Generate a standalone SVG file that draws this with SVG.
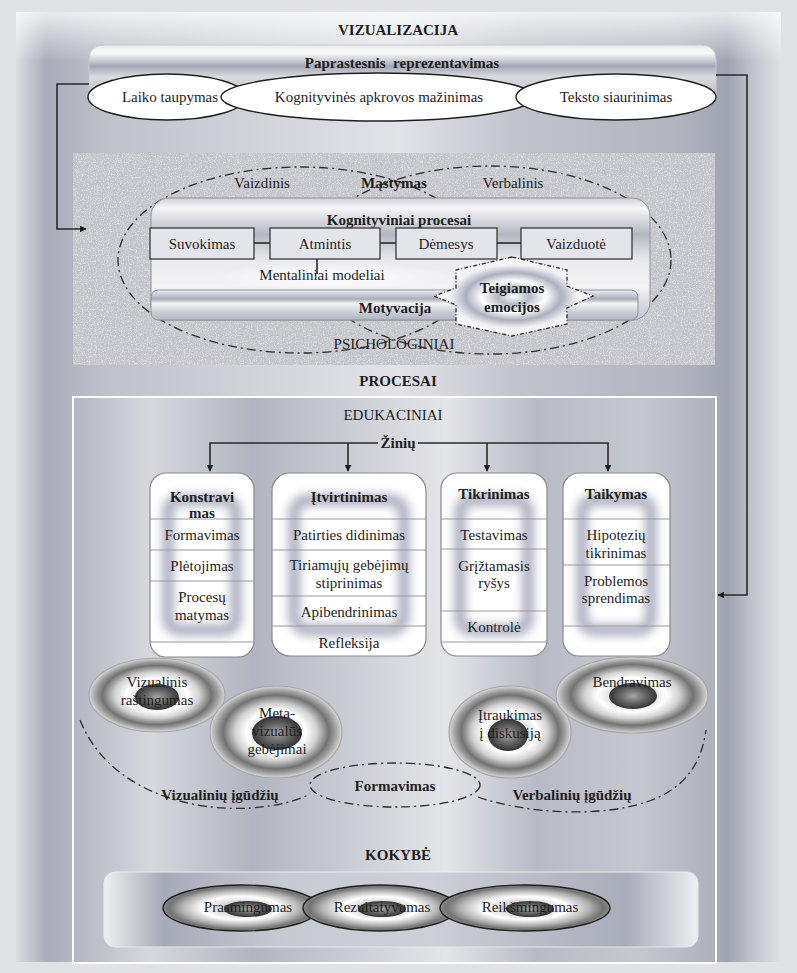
<svg xmlns="http://www.w3.org/2000/svg" width="797" height="973" viewBox="0 0 797 973">
<defs>
<style>
.t{font-family:"Liberation Serif","Times New Roman",serif;font-size:15px;fill:#1e1e1e;text-anchor:middle;dominant-baseline:central}
.b{font-weight:bold}
.ln{stroke:#2a2a2a;stroke-width:1.6;fill:none}
.dd{stroke:#2a2a2a;stroke-width:1.3;fill:none;stroke-dasharray:9 4 2 4}
.cbox{fill:#e4e5ea;stroke:#3a3a3a;stroke-width:1.3}
.ebox{fill:#ffffff;stroke:#8a8a8a;stroke-width:1.2}
.div{stroke:#9a9a9a;stroke-width:1}
.glow{fill:none;stroke:#8e92a8;stroke-width:12;opacity:0.7;filter:url(#blur)}
.oval{fill:#ffffff;stroke:#1e1e1e;stroke-width:1.4}
.ring{fill:url(#gRing);stroke:#a8a8a8;stroke-width:1.2}
.core{fill:url(#gCore)}
.ring2{fill:url(#gRing2);stroke:#1e1e1e;stroke-width:1.4}
</style>
<linearGradient id="gBg" x1="0" y1="0" x2="1" y2="0">
<stop offset="0" stop-color="#dcdde1"/><stop offset="0.04" stop-color="#a9acb9"/><stop offset="0.12" stop-color="#c0c2cb"/>
<stop offset="0.3" stop-color="#d0d2d8"/><stop offset="0.5" stop-color="#e2e3e7"/><stop offset="0.66" stop-color="#c0c3cc"/>
<stop offset="0.86" stop-color="#b3b6c1"/><stop offset="0.93" stop-color="#a0a3b1"/><stop offset="0.97" stop-color="#c8cad2"/><stop offset="1" stop-color="#e0e1e5"/>
</linearGradient>
<linearGradient id="gTop" x1="0" y1="0" x2="0" y2="1">
<stop offset="0" stop-color="#ffffff" stop-opacity="0.75"/><stop offset="1" stop-color="#ffffff" stop-opacity="0"/>
</linearGradient>
<linearGradient id="gIn" x1="0" y1="0" x2="1" y2="0">
<stop offset="0" stop-color="#b3b6c2"/><stop offset="0.12" stop-color="#d6d8dd"/><stop offset="0.28" stop-color="#b2b5c1"/>
<stop offset="0.45" stop-color="#ced0d7"/><stop offset="0.58" stop-color="#e4e5e8"/><stop offset="0.72" stop-color="#b8bbc6"/>
<stop offset="0.88" stop-color="#c6c8d0"/><stop offset="1" stop-color="#adb0bc"/>
</linearGradient>
<linearGradient id="gBar" x1="0" y1="0" x2="0" y2="1">
<stop offset="0" stop-color="#e8e9ec"/><stop offset="0.15" stop-color="#fbfbfc"/><stop offset="0.4" stop-color="#a4a8b5"/>
<stop offset="0.6" stop-color="#dadbe0"/><stop offset="1" stop-color="#b9bcc6"/>
</linearGradient>
<linearGradient id="gCog" x1="0" y1="0" x2="0" y2="1">
<stop offset="0" stop-color="#cfd1d8"/><stop offset="0.08" stop-color="#f6f6f8"/><stop offset="0.3" stop-color="#b4b7c3"/>
<stop offset="0.5" stop-color="#e8e9ec"/><stop offset="0.72" stop-color="#f4f4f6"/><stop offset="1" stop-color="#c2c4cd"/>
</linearGradient>
<linearGradient id="gMot" x1="0" y1="0" x2="0" y2="1">
<stop offset="0" stop-color="#eeeff2"/><stop offset="0.3" stop-color="#a9adba"/><stop offset="0.45" stop-color="#f4f4f6"/>
<stop offset="0.75" stop-color="#c9ccd4"/><stop offset="1" stop-color="#b2b5c1"/>
</linearGradient>
<linearGradient id="gQ" x1="0" y1="0" x2="1" y2="0">
<stop offset="0" stop-color="#eeeff1"/><stop offset="0.1" stop-color="#a6a9b7"/><stop offset="0.3" stop-color="#c8cad2"/>
<stop offset="0.55" stop-color="#cdd0d7"/><stop offset="0.88" stop-color="#a9acba"/><stop offset="1" stop-color="#eeeff1"/>
</linearGradient>
<radialGradient id="gMent"><stop offset="0" stop-color="#ffffff" stop-opacity="0.9"/><stop offset="1" stop-color="#ffffff" stop-opacity="0"/></radialGradient>
<radialGradient id="gStar">
<stop offset="0" stop-color="#ffffff"/><stop offset="0.2" stop-color="#b6b9c6"/><stop offset="0.4" stop-color="#ffffff"/>
<stop offset="0.6" stop-color="#adb0be"/><stop offset="0.8" stop-color="#f3f3f6"/><stop offset="1" stop-color="#ffffff"/>
</radialGradient>
<radialGradient id="gRing">
<stop offset="0" stop-color="#bdbdbd"/><stop offset="0.25" stop-color="#dadada"/><stop offset="0.45" stop-color="#ffffff"/>
<stop offset="0.62" stop-color="#d2d2d2"/><stop offset="0.8" stop-color="#727272"/><stop offset="0.9" stop-color="#a0a0a0"/><stop offset="1" stop-color="#d8d8d8"/>
</radialGradient>
<radialGradient id="gRing2">
<stop offset="0" stop-color="#9a9a9a"/><stop offset="0.3" stop-color="#dcdcdc"/><stop offset="0.5" stop-color="#ffffff"/>
<stop offset="0.75" stop-color="#b4b4b4"/><stop offset="0.92" stop-color="#737373"/><stop offset="1" stop-color="#8a8a8a"/>
</radialGradient>
<radialGradient id="gCore">
<stop offset="0" stop-color="#a6a6a6"/><stop offset="0.6" stop-color="#5e5e5e"/><stop offset="1" stop-color="#353535"/>
</radialGradient>
<filter id="blur" x="-20%" y="-20%" width="140%" height="140%"><feGaussianBlur stdDeviation="5"/></filter>
<filter id="noiseW" x="0" y="0" width="1" height="1">
<feTurbulence type="fractalNoise" baseFrequency="0.85" numOctaves="2" seed="4"/>
<feColorMatrix type="matrix" values="0 0 0 0 1  0 0 0 0 1  0 0 0 0 1  1.6 0 0 0 -0.75"/>
</filter>
<filter id="noiseD" x="0" y="0" width="1" height="1">
<feTurbulence type="fractalNoise" baseFrequency="0.9" numOctaves="2" seed="11"/>
<feColorMatrix type="matrix" values="0 0 0 0 0.45  0 0 0 0 0.45  0 0 0 0 0.48  1.6 0 0 0 -0.8"/>
</filter>
<marker id="arr" viewBox="0 0 10 10" refX="9" refY="5" markerWidth="7" markerHeight="7" orient="auto" markerUnits="userSpaceOnUse">
<path d="M0,0 L10,5 L0,10 z" fill="#1e1e1e"/>
</marker>
</defs>

<!-- background -->
<g id="background">
<rect x="0" y="0" width="797" height="973" fill="#e1e2e5"/>
<rect x="16" y="12" width="765" height="950" fill="url(#gBg)"/>
<rect x="16" y="12" width="765" height="50" fill="url(#gTop)"/>
<rect x="73" y="397" width="643" height="566" fill="url(#gIn)"/>
<rect x="73" y="397" width="643" height="566" fill="none" stroke="#ffffff" stroke-width="2"/>
</g>

<text class="t b" x="398" y="30">VIZUALIZACIJA</text>

<g id="top-bar">
<path d="M89,98 V60 Q89,45 104,45 H701 Q716,45 716,60 V98 Z" fill="url(#gBar)" stroke="#c8c9ce" stroke-width="1"/>
<text class="t b" x="402" y="63" style="white-space:pre">Paprastesnis  reprezentavimas</text>
</g>
<g id="laiko"><ellipse class="oval" cx="167" cy="97" rx="79" ry="23"/></g>
<g id="kognityvines"><ellipse class="oval" cx="378" cy="97" rx="157" ry="24"/></g>
<g id="teksto"><ellipse class="oval" cx="616" cy="97" rx="100" ry="23"/></g>
<text class="t" x="170" y="97">Laiko taupymas</text>
<text class="t" x="379" y="97">Kognityvinės apkrovos mažinimas</text>
<text class="t" x="616" y="97">Teksto siaurinimas</text>

<g id="psichologiniai">
<rect x="73" y="153" width="642" height="212" fill="#c6c7cc"/>
<rect x="73" y="153" width="642" height="212" fill="#fff" filter="url(#noiseW)"/>
<rect x="73" y="153" width="642" height="212" fill="#fff" filter="url(#noiseD)"/>
<text class="t" x="394" y="344">PSICHOLOGINIAI</text>
</g>

<g id="mastymas">
<ellipse class="dd" cx="300" cy="260" rx="182" ry="93"/>
<ellipse class="dd" cx="490" cy="260" rx="181" ry="94"/>
<text class="t" x="262" y="183">Vaizdinis</text>
<text class="t b" x="394" y="183">Mąstymas</text>
<text class="t" x="513" y="183">Verbalinis</text>
</g>

<g id="kognityviniai">
<rect x="151" y="198" width="499" height="122" rx="18" fill="url(#gCog)" stroke="#8f929c" stroke-width="1"/>
<ellipse cx="330" cy="276" rx="120" ry="14" fill="url(#gMent)"/>
<text class="t b" x="399" y="220">Kognityviniai procesai</text>
</g>
<g id="suvokimas"><rect class="cbox" x="150" y="228" width="104" height="31"/><text class="t" x="202" y="244">Suvokimas</text></g>
<g id="atmintis"><rect class="cbox" x="270" y="228" width="110" height="31"/><text class="t" x="325" y="244">Atmintis</text></g>
<g id="demesys"><rect class="cbox" x="396" y="228" width="101" height="31"/><text class="t" x="446" y="244">Dėmesys</text></g>
<g id="vaizduote"><rect class="cbox" x="521" y="228" width="111" height="31"/><text class="t" x="576" y="244">Vaizduotė</text></g>
<g id="mentaliniai"><text class="t" x="322" y="275">Mentaliniai modeliai</text></g>

<g id="motyvacija">
<rect x="151" y="290" width="487" height="30" rx="7" fill="url(#gMot)" stroke="#8f929c" stroke-width="1"/>
<text class="t b" x="395" y="308">Motyvacija</text>
</g>

<g id="teigiamos">
<polygon points="512,257 456,270 456,288 434,296 456,305 456,324 512,336 567,324 567,308 593,296 567,286 567,270" fill="url(#gStar)" stroke="#2a2a2a" stroke-width="1.3" stroke-dasharray="4 2 1 2"/>
<text class="t b" x="512" y="288">Teigiamos</text>
<text class="t b" x="512" y="307">emocijos</text>
</g>

<text class="t b" x="398" y="381">PROCESAI</text>
<text class="t" x="393" y="415">EDUKACINIAI</text>
<text class="t b" x="398" y="443">Žinių</text>

<g id="konstravimas">
<rect class="ebox" x="150" y="473" width="104" height="184" rx="16"/>
<rect class="glow" x="168" y="500" width="68" height="130" rx="12"/>
<line class="div" x1="150" y1="519" x2="254" y2="519"/><line class="div" x1="150" y1="550" x2="254" y2="550"/>
<line class="div" x1="150" y1="581" x2="254" y2="581"/><line class="div" x1="150" y1="642" x2="254" y2="642"/>
<text class="t b" x="202" y="497">Konstravi</text><text class="t b" x="202" y="513">mas</text>
<text class="t" x="202" y="535">Formavimas</text><text class="t" x="202" y="566">Plėtojimas</text>
<text class="t" x="202" y="597">Procesų</text><text class="t" x="202" y="615">matymas</text>
</g>
<g id="itvirtinimas">
<rect class="ebox" x="272" y="473" width="154" height="183" rx="18"/>
<rect class="glow" x="294" y="500" width="110" height="130" rx="14"/>
<line class="div" x1="272" y1="519" x2="426" y2="519"/><line class="div" x1="272" y1="550" x2="426" y2="550"/>
<line class="div" x1="272" y1="596" x2="426" y2="596"/><line class="div" x1="272" y1="626" x2="426" y2="626"/>
<text class="t b" x="349" y="497">Įtvirtinimas</text>
<text class="t" x="349" y="535">Patirties didinimas</text>
<text class="t" x="349" y="565">Tiriamųjų gebėjimų</text><text class="t" x="349" y="583">stiprinimas</text>
<text class="t" x="349" y="612">Apibendrinimas</text><text class="t" x="349" y="643">Refleksija</text>
</g>
<g id="tikrinimas">
<rect class="ebox" x="441" y="473" width="106" height="183" rx="16"/>
<rect class="glow" x="460" y="500" width="68" height="130" rx="12"/>
<line class="div" x1="441" y1="519" x2="547" y2="519"/><line class="div" x1="441" y1="549" x2="547" y2="549"/>
<line class="div" x1="441" y1="611" x2="547" y2="611"/><line class="div" x1="441" y1="642" x2="547" y2="642"/>
<text class="t b" x="494" y="494">Tikrinimas</text>
<text class="t" x="494" y="535">Testavimas</text>
<text class="t" x="494" y="566">Grįžtamasis</text><text class="t" x="494" y="583">ryšys</text>
<text class="t" x="494" y="627">Kontrolė</text>
</g>
<g id="taikymas">
<rect class="ebox" x="563" y="473" width="107" height="183" rx="16"/>
<rect class="glow" x="582" y="500" width="69" height="130" rx="12"/>
<line class="div" x1="563" y1="519" x2="670" y2="519"/><line class="div" x1="563" y1="565" x2="670" y2="565"/>
<line class="div" x1="563" y1="626" x2="670" y2="626"/>
<text class="t b" x="616" y="494">Taikymas</text>
<text class="t" x="616" y="535">Hipotezių</text><text class="t" x="616" y="553">tikrinimas</text>
<text class="t" x="616" y="581">Problemos</text><text class="t" x="616" y="598">sprendimas</text>
</g>

<g id="vizualinis-rastingumas">
<ellipse class="ring" cx="157" cy="695" rx="68" ry="37"/><ellipse class="core" cx="157" cy="697" rx="22" ry="13"/>
<text class="t" x="157" y="682">Vizualinis</text><text class="t" x="157" y="700">raštingumas</text>
</g>
<g id="meta-vizualus">
<ellipse class="ring" cx="276" cy="732" rx="66" ry="46"/><ellipse class="core" cx="277" cy="733" rx="25" ry="17"/>
<text class="t" x="277" y="713">Meta-</text><text class="t" x="277" y="731">vizualūs</text><text class="t" x="277" y="749">gebėjimai</text>
</g>
<g id="itraukimas">
<ellipse class="ring" cx="510" cy="732" rx="61" ry="46"/><ellipse class="core" cx="508" cy="735" rx="20" ry="16"/>
<text class="t" x="510" y="715">Įtraukimas</text><text class="t" x="510" y="733">į diskusiją</text>
</g>
<g id="bendravimas">
<ellipse class="ring" cx="632" cy="695" rx="76" ry="38"/><ellipse class="core" cx="633" cy="696" rx="24" ry="13"/>
<text class="t" x="632" y="682">Bendravimas</text>
</g>

<g id="igudziu">
<path class="dd" d="M80,720 C108,790 190,812 250,808 C280,806 298,800 310,794"/>
<ellipse class="dd" cx="395" cy="785" rx="85" ry="22" fill="#c9cbd2" fill-opacity="0.5"/>
<path class="dd" d="M478,797 C520,812 600,820 652,800 C688,786 702,760 706,730"/>
<text class="t b" x="220" y="795">Vizualinių įgūdžių</text>
<text class="t b" x="395" y="786">Formavimas</text>
<text class="t b" x="572" y="795">Verbalinių įgūdžių</text>
</g>

<text class="t b" x="398" y="855">KOKYBĖ</text>
<g id="kokybe">
<rect x="104" y="872" width="594" height="75" rx="11" fill="url(#gQ)" stroke="#e8e8ea" stroke-width="1"/>
</g>
<g id="prasmingumas"><ellipse class="ring2" cx="241" cy="908" rx="78" ry="23"/><ellipse class="core" cx="248" cy="909" rx="24" ry="8"/></g>
<g id="rezultatyvumas"><ellipse class="ring2" cx="380" cy="908" rx="77" ry="23"/><ellipse class="core" cx="382" cy="909" rx="24" ry="8"/></g>
<g id="reiksmingumas"><ellipse class="ring2" cx="525" cy="908" rx="85" ry="23"/><ellipse class="core" cx="530" cy="909" rx="24" ry="8"/></g>
<text class="t" x="248" y="907">Prasmingumas</text>
<text class="t" x="382" y="907">Rezultatyvumas</text>
<text class="t" x="530" y="907">Reikšmingumas</text>

<g id="connectors">
<path class="ln" d="M89,84 H57 V229 H86" marker-end="url(#arr)"/>
<path class="ln" d="M716,75 H747 V595 H718" marker-end="url(#arr)"/>
<line class="ln" x1="254" y1="243" x2="270" y2="243"/>
<line class="ln" x1="380" y1="243" x2="396" y2="243"/>
<line class="ln" x1="497" y1="243" x2="521" y2="243"/>
<line class="ln" x1="317" y1="259" x2="317" y2="274"/>
<path class="ln" d="M378,443 H210 V471" marker-end="url(#arr)"/>
<path class="ln" d="M418,443 H608 V471" marker-end="url(#arr)"/>
<path class="ln" d="M348,443 V471" marker-end="url(#arr)"/>
<path class="ln" d="M487,443 V471" marker-end="url(#arr)"/>
</g>
</svg>
